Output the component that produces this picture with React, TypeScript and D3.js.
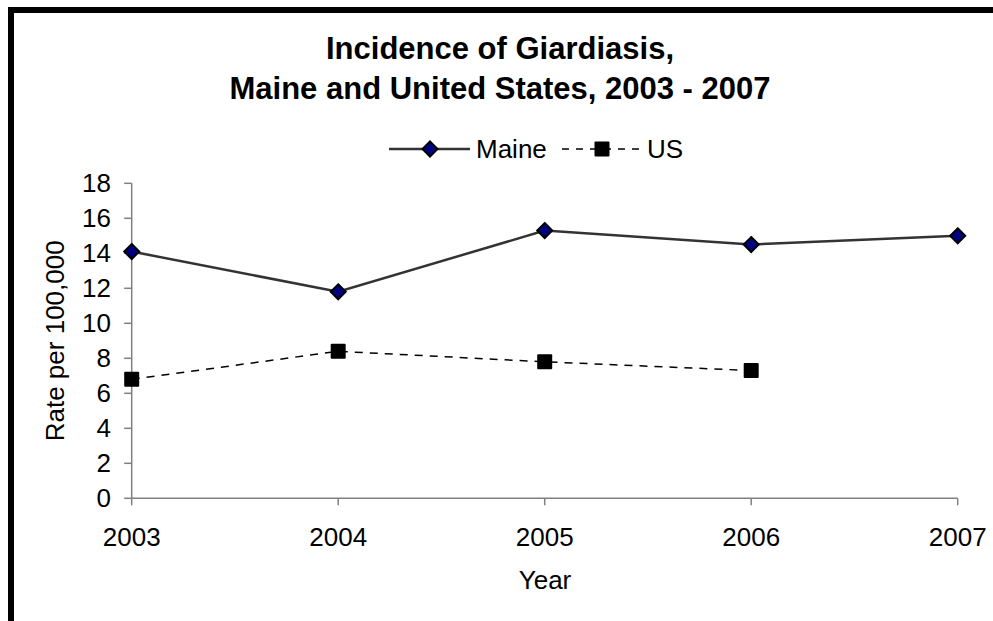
import React from "react";
import * as d3 from "d3";

const years = [2003, 2004, 2005, 2006, 2007];
const maineValues = [14.1, 11.8, 15.3, 14.5, 15.0];
const usValues = [6.8, 8.4, 7.8, 7.3];
const yTicks = [0, 2, 4, 6, 8, 10, 12, 14, 16, 18];
const titleLines = ["Incidence of Giardiasis,", "Maine and United States, 2003 - 2007"];
const seriesNames = ["Maine", "US"];

const W = 993;
const H = 621;
const FONT = "'Liberation Sans', Arial, sans-serif";

export default function App() {
  const x = d3.scaleLinear().domain([2003, 2007]).range([131.7, 957.7]);
  const y = d3.scaleLinear().domain([0, 18]).range([498.3, 183.3]);

  const line = d3
    .line<[number, number]>()
    .x((d) => x(d[0]))
    .y((d) => y(d[1]));

  const maineData: [number, number][] = maineValues.map((v, i) => [years[i], v]);
  const usData: [number, number][] = usValues.map((v, i) => [years[i], v]);

  const diamond = (cx: number, cy: number, r: number) =>
    `M${cx},${cy - r}L${cx + r},${cy}L${cx},${cy + r}L${cx - r},${cy}Z`;

  const axisColor = "#808080";

  return (
    <svg
      width={W}
      height={H}
      style={{ position: "absolute", left: 0, top: 0, display: "block", background: "#fff" }}
      fontFamily={FONT}
    >
      <rect x={0} y={0} width={W} height={H} fill="#fff" />
      {/* frame */}
      <rect x={11} y={10} width={W + 50} height={H + 50} fill="none" stroke="#000" strokeWidth={6} />

      {/* title */}
      {titleLines.map((t, i) => (
        <text
          key={i}
          x={500}
          y={59 + i * 40}
          textAnchor="middle"
          fontSize={31}
          fontWeight="bold"
          fill="#000"
        >
          {t}
        </text>
      ))}

      {/* legend */}
      <g>
        <line x1={389} x2={470} y1={149} y2={149} stroke="#333" strokeWidth={2.5} />
        <path d={diamond(430, 149, 7.5)} fill="#000080" stroke="#000" strokeWidth={2} />
        <text x={476} y={158} fontSize={26} fill="#000">
          {seriesNames[0]}
        </text>
        <line
          x1={562}
          x2={642}
          y1={149}
          y2={149}
          stroke="#000"
          strokeWidth={1.5}
          strokeDasharray="7 7"
        />
        <rect x={594.5} y={141.5} width={15} height={15} fill="#000" rx={1} />
        <text x={647} y={158} fontSize={26} fill="#000">
          {seriesNames[1]}
        </text>
      </g>

      {/* axes */}
      <line x1={x(2003)} x2={x(2003)} y1={y(18)} y2={y(0)} stroke={axisColor} strokeWidth={1.5} />
      <line x1={x(2003)} x2={x(2007)} y1={y(0)} y2={y(0)} stroke={axisColor} strokeWidth={1.5} />
      {yTicks.map((t) => (
        <g key={t}>
          <line x1={x(2003) - 7.5} x2={x(2003)} y1={y(t)} y2={y(t)} stroke={axisColor} strokeWidth={1.5} />
          <text x={111} y={y(t)} dy="0.35em" textAnchor="end" fontSize={26} fill="#000">
            {t}
          </text>
        </g>
      ))}
      {years.map((yr) => (
        <g key={yr}>
          <line x1={x(yr)} x2={x(yr)} y1={y(0)} y2={y(0) + 7} stroke={axisColor} strokeWidth={1.5} />
          <text x={x(yr)} y={546} textAnchor="middle" fontSize={26} fill="#000">
            {yr}
          </text>
        </g>
      ))}
      <text x={545} y={589} textAnchor="middle" fontSize={26} fill="#000">
        Year
      </text>
      <text
        transform={`translate(64, ${y(9)}) rotate(-90)`}
        textAnchor="middle"
        fontSize={26}
        fill="#000"
      >
        Rate per 100,000
      </text>

      {/* US series */}
      <path d={line(usData) || ""} fill="none" stroke="#000" strokeWidth={1.5} strokeDasharray="8 7" />
      {usData.map((d, i) => (
        <rect key={i} x={x(d[0]) - 7.5} y={y(d[1]) - 7.5} width={15} height={15} fill="#000" rx={1} />
      ))}

      {/* Maine series */}
      <path d={line(maineData) || ""} fill="none" stroke="#333" strokeWidth={2.5} />
      {maineData.map((d, i) => (
        <path key={i} d={diamond(x(d[0]), y(d[1]), 7.5)} fill="#000080" stroke="#000" strokeWidth={2} />
      ))}
    </svg>
  );
}
